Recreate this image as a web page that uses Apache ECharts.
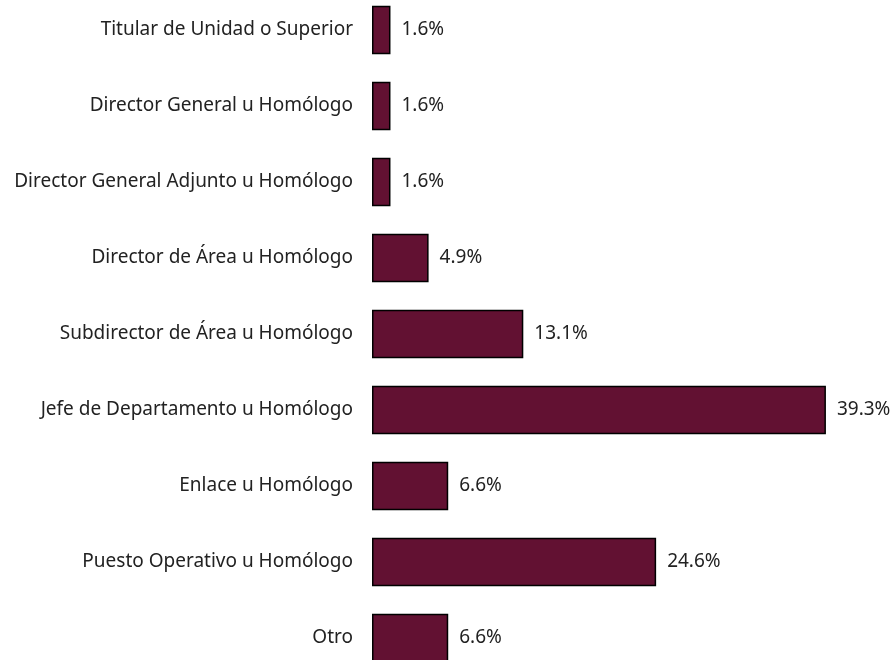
<!DOCTYPE html>
<html>
<head>
<meta charset="utf-8">
<script src="https://cdn.jsdelivr.net/npm/echarts@6/dist/echarts.min.js"></script>
<style>html,body{margin:0;padding:0;background:#fff;overflow:hidden;width:892px;height:660px}#c{position:absolute;left:0;top:-8px;width:892px;height:684px}</style>
</head>
<body>
<div id="c"></div>
<script>
const categories = [
  "Titular de Unidad o Superior",
  "Director General u Homólogo",
  "Director General Adjunto u Homólogo",
  "Director de Área u Homólogo",
  "Subdirector de Área u Homólogo",
  "Jefe de Departamento u Homólogo",
  "Enlace u Homólogo",
  "Puesto Operativo u Homólogo",
  "Otro"
];
const values = [1.6, 1.6, 1.6, 4.9, 13.1, 39.3, 6.6, 24.6, 6.6];

const chart = echarts.init(document.getElementById('c'), null, {renderer: 'canvas'});
chart.setOption({
  animation: false,
  grid: {left: 372, right: 58, top: 0, bottom: 0, containLabel: false},
  xAxis: {type: 'value', min: 0, max: 40, show: false},
  yAxis: {
    type: 'category',
    data: categories,
    inverse: true,
    axisLine: {show: false},
    axisTick: {show: false},
    axisLabel: {margin: 19, fontSize: 19, color: '#222', fontFamily: 'Noto Sans'}
  },
  series: [{
    type: 'bar',
    data: values,
    barCategoryGap: '36%',
    itemStyle: {color: '#621132', borderColor: '#000', borderWidth: 1.5},
    label: {
      show: true, position: 'right', distance: 11,
      fontSize: 19, color: '#222', fontFamily: 'Noto Sans',
      formatter: p => p.value.toFixed(1) + '%'
    }
  }]
});
</script>
</body>
</html>
